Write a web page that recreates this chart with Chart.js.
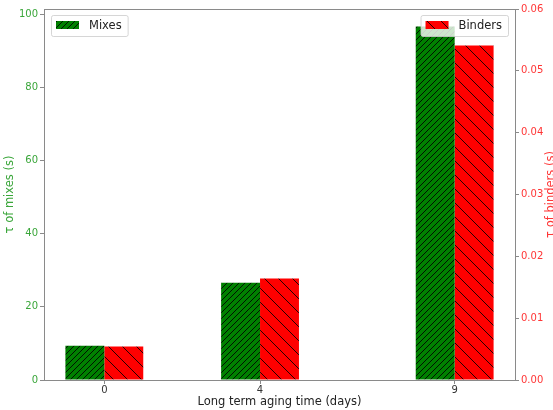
<!DOCTYPE html>
<html>
<head>
<meta charset="utf-8">
<script src="https://cdn.jsdelivr.net/npm/chart.js@4"></script>
<style>
html,body{margin:0;padding:0;background:#fff;}
canvas{display:block;}
</style>
</head>
<body>
<canvas id="c" width="553" height="410"></canvas>
<script>
// ---- data ----
const agingDays = [0, 4, 9];
const mixesTau = [9.35, 26.6, 96.6];
const bindersTau = [0.0054, 0.0164, 0.0541];
const xTickValues = [0, 4, 9];
const leftTickValues = [0, 20, 40, 60, 80, 100];
const rightTickValues = [0, 0.01, 0.02, 0.03, 0.04, 0.05, 0.06];
const seriesNames = ['Mixes', 'Binders'];
const xTitle = 'Long term aging time (days)';
const leftTitle = 'τ of mixes (s)';
const rightTitle = 'τ of binders (s)';

// ---- styles ----
const GREEN = '#008000';
const RED = '#ff0000';
const GREEN_TXT = '#3aa63a';
const RED_TXT = '#ff3535';
const SPINE = '#8a8a8a';
const FONT = "'DejaVu Sans', sans-serif";

function hatch(bg, size, dir) {
  const c = document.createElement('canvas');
  c.width = size; c.height = size;
  const g = c.getContext('2d');
  g.fillStyle = bg; g.fillRect(0, 0, size, size);
  g.strokeStyle = 'rgba(0,0,0,0.85)';
  g.lineWidth = 1;
  g.beginPath();
  if (dir === '/') {
    for (let k = -1; k <= 1; k++) {
      g.moveTo(k * size - 1, size + 1); g.lineTo(k * size + size + 1, -1);
    }
  } else {
    for (let k = -1; k <= 1; k++) {
      g.moveTo(k * size - 1, -1); g.lineTo(k * size + size + 1, size + 1);
    }
  }
  g.stroke();
  return document.getElementById('c').getContext('2d').createPattern(c, 'repeat');
}
const greenHatch = hatch(GREEN, 6, '/');
const redHatch = hatch(RED, 14, '\\');

const setTicks = arr => scale => { scale.ticks = arr.map(v => ({ value: v })); };

const extrasPlugin = {
  id: 'extras',
  afterDraw(chart) {
    const ctx = chart.ctx;
    const a = chart.chartArea;
    ctx.save();
    // top spine
    ctx.strokeStyle = SPINE; ctx.lineWidth = 1;
    ctx.beginPath(); ctx.moveTo(a.left, a.top + 0.5); ctx.lineTo(a.right, a.top + 0.5); ctx.stroke();

    // axis titles
    ctx.font = '11.5px ' + FONT;
    ctx.fillStyle = '#222';
    ctx.textAlign = 'center'; ctx.textBaseline = 'middle';
    ctx.fillText(xTitle, (a.left + a.right) / 2, 402);
    const midY = (a.top + a.bottom) / 2;
    ctx.save();
    ctx.translate(13, midY); ctx.rotate(-Math.PI / 2);
    ctx.textBaseline = 'alphabetic'; ctx.fillStyle = GREEN_TXT;
    ctx.fillText(leftTitle, 0, 0);
    ctx.restore();
    ctx.save();
    ctx.translate(554, midY); ctx.rotate(-Math.PI / 2);
    ctx.textBaseline = 'alphabetic'; ctx.fillStyle = RED_TXT;
    ctx.fillText(rightTitle, 0, 0);
    ctx.restore();

    // legends
    function legend(x, label, fill, alignRight) {
      ctx.font = '11.5px ' + FONT;
      const tw = ctx.measureText(label).width;
      const w = 5 + 23 + 10 + tw + 6;
      const bx = alignRight ? x - w : x;
      const by = a.top + 6, bh = 21;
      ctx.beginPath();
      if (ctx.roundRect) ctx.roundRect(bx + 0.5, by + 0.5, w, bh, 2); else ctx.rect(bx + 0.5, by + 0.5, w, bh);
      ctx.fillStyle = 'rgba(255,255,255,0.8)'; ctx.fill();
      ctx.strokeStyle = 'rgba(204,204,204,0.8)'; ctx.lineWidth = 1; ctx.stroke();
      ctx.fillStyle = fill;
      ctx.fillRect(bx + 5, by + 6, 23, 8);
      ctx.fillStyle = '#222'; ctx.textAlign = 'left'; ctx.textBaseline = 'middle';
      ctx.fillText(label, bx + 38, by + 11);
    }
    legend(a.left + 7, seriesNames[0], greenHatch, false);
    legend(a.right - 7, seriesNames[1], redHatch, true);
    ctx.restore();
  }
};

new Chart(document.getElementById('c'), {
  type: 'bar',
  data: {
    datasets: [
      {
        label: seriesNames[0],
        data: agingDays.map((d, i) => ({ x: d, y: mixesTau[i] })),
        backgroundColor: greenHatch,
        borderWidth: 0,
        yAxisID: 'y',
        categoryPercentage: 0.5,
        barPercentage: 1.0
      },
      {
        label: seriesNames[1],
        data: agingDays.map((d, i) => ({ x: d, y: bindersTau[i] })),
        backgroundColor: redHatch,
        borderWidth: 0,
        yAxisID: 'y1',
        categoryPercentage: 0.5,
        barPercentage: 1.0
      }
    ]
  },
  options: {
    responsive: false,
    animation: false,
    devicePixelRatio: 1,
    layout: { padding: { top: 9, left: 0, right: 0, bottom: 0 } },
    plugins: { legend: { display: false }, tooltip: { enabled: false } },
    scales: {
      x: {
        type: 'linear',
        min: -1.55, max: 10.55,
        offset: false,
        afterBuildTicks: setTicks(xTickValues),
        afterFit: s => { s.height = 30; },
        grid: { display: true, drawOnChartArea: false, drawTicks: true, tickLength: 4, color: SPINE, offset: false },
        border: { display: true, color: SPINE },
        ticks: { color: '#333', font: { family: FONT, size: 10 }, padding: 0, maxRotation: 0, autoSkip: false }
      },
      y: {
        position: 'left',
        min: 0, max: 101.4,
        afterBuildTicks: setTicks(leftTickValues),
        afterFit: s => { s.width = 44; },
        grid: { display: true, drawOnChartArea: false, drawTicks: true, tickLength: 4, color: SPINE },
        border: { display: true, color: SPINE },
        ticks: { color: GREEN_TXT, font: { family: FONT, size: 10 }, padding: 2, autoSkip: false }
      },
      y1: {
        position: 'right',
        min: 0, max: 0.06,
        afterBuildTicks: setTicks(rightTickValues),
        afterFit: s => { s.width = 38; },
        grid: { display: true, drawOnChartArea: false, drawTicks: true, tickLength: 4, color: SPINE },
        border: { display: true, color: SPINE },
        ticks: { color: RED_TXT, font: { family: FONT, size: 10 }, padding: 2, autoSkip: false,
                 callback: v => Number(v).toFixed(2) }
      }
    }
  },
  plugins: [extrasPlugin]
});
</script>
</body>
</html>
